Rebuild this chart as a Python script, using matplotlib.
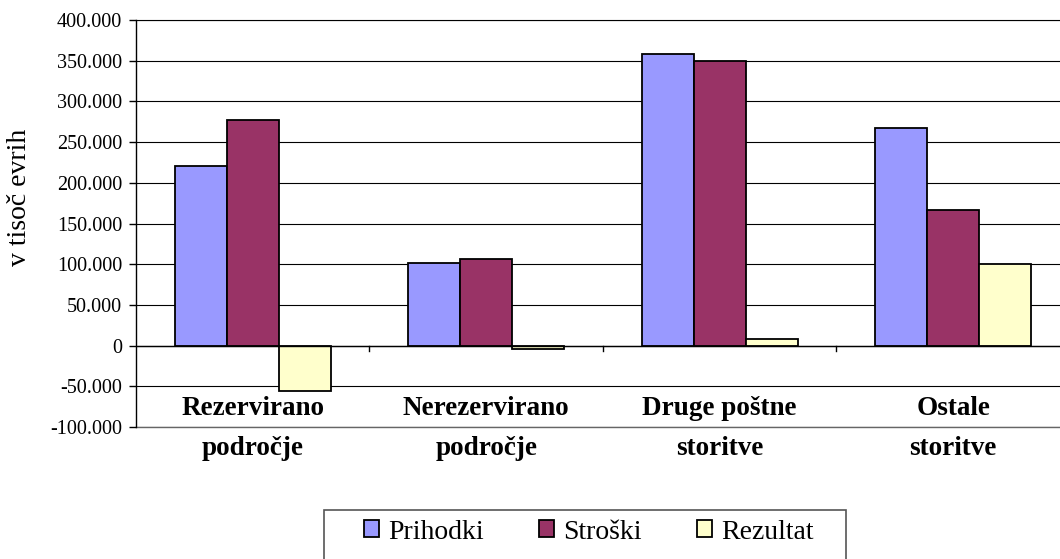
import numpy as np
import matplotlib
matplotlib.use("Agg")
import matplotlib.pyplot as plt
from matplotlib.ticker import FuncFormatter, MultipleLocator
from matplotlib.patches import Rectangle
import matplotlib.transforms as mtransforms

plt.rcParams['font.family'] = ['Liberation Serif', 'DejaVu Serif']

# data (v tisoč evrih)
categories = ["Rezervirano\npodročje", "Nerezervirano\npodročje",
              "Druge poštne\nstoritve", "Ostale\nstoritve"]
series_names = ["Prihodki", "Stroški", "Rezultat"]
prihodki = [221000, 102000, 358000, 267000]
stroski = [277000, 106000, 350000, 166000]
rezultat = [-56000, -4000, 8000, 100000]
colors = ["#9999ff", "#993366", "#ffffcc"]

fig = plt.figure(figsize=(10.6, 5.59), dpi=100)
ax = fig.add_axes([0.1283, 0.2361, 0.8811, 0.7281])

x = np.arange(len(categories))
w = 0.223
for i, (vals, name, c) in enumerate(zip([prihodki, stroski, rezultat], series_names, colors)):
    ax.bar(x + (i - 1) * w, vals, width=w, color=c, edgecolor="black",
           linewidth=1.3, label=name, zorder=3)

ax.set_xlim(-0.5, len(categories) - 0.5)
ax.set_ylim(-100000, 400000)
ax.yaxis.set_major_locator(MultipleLocator(50000))
ax.yaxis.set_major_formatter(FuncFormatter(
    lambda v, p: f"{int(v):,}".replace(",", ".")))
ax.grid(axis="y", color="black", linewidth=0.8, zorder=0)
ax.tick_params(axis="y", labelsize=14.5, length=5, width=1, direction="out", pad=5)

for s in ["right", "bottom"]:
    ax.spines[s].set_visible(False)
ax.spines["left"].set_linewidth(1)
ax.spines["top"].set_linewidth(0.8)
# bottom gridline (gray, like the original)
ax.axhline(ax.get_ylim()[0], color="#666666", linewidth=1, clip_on=False, zorder=1)

# zero axis line with category-boundary ticks
ax.axhline(0, color="black", linewidth=1, zorder=4)
ax.set_xticks([])
trans = mtransforms.blended_transform_factory(ax.transData, ax.transAxes)
for b in np.arange(0.5, len(categories) - 0.5, 1):
    ax.plot([b, b], [0, -7000], color="black", linewidth=1, clip_on=False, zorder=4)

for xi, lab in zip(x, categories):
    ax.text(xi, -0.003, lab, transform=trans, ha="center", va="center",
            fontsize=19.5, fontweight="bold", linespacing=1.8, zorder=5)

ax.set_ylabel("v tisoč evrih", fontsize=20)
ax.yaxis.set_label_coords(-0.111, 0.565)

# legend, frame runs off the bottom edge as in the original
leg = fig.legend(loc="center", bbox_to_anchor=(0.5557, 0.0483), ncol=3,
                 fontsize=20, frameon=False,
                 handlelength=0.54, handleheight=0.54, handletextpad=0.32,
                 columnspacing=2.0, borderpad=0, borderaxespad=0)
for h in leg.legend_handles:
    h.set_linewidth(1.3)
fig.patches.append(Rectangle((0.3057, -0.02), 0.4925, 0.1077, transform=fig.transFigure,
                             fill=False, edgecolor="#555555", linewidth=1.2))

fig.savefig("out.png", dpi=100)
